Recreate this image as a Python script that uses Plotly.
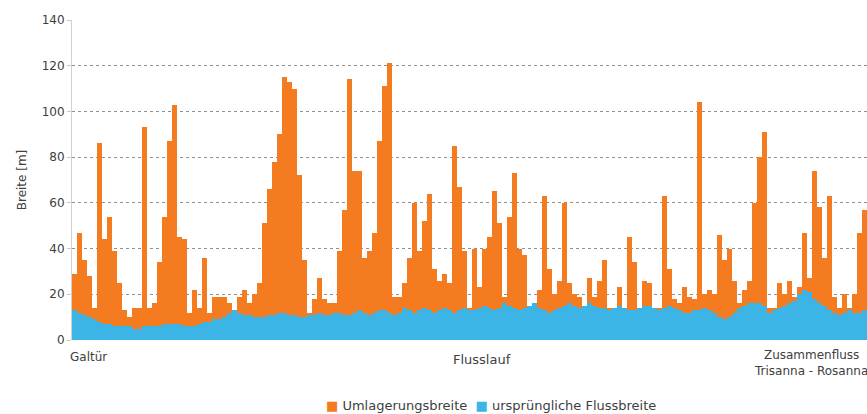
import plotly.graph_objects as go

# Breite entlang des Flusslaufs (Abschnitte von Galtür bis zum Zusammenfluss)
umlagerungsbreite = [
    29, 47, 35, 28, 14, 86, 44, 54, 39, 25,
    13, 10, 14, 14, 93, 14, 16, 34, 54, 87,
    103, 45, 44, 12, 22, 14, 36, 12, 19, 19,
    19, 16, 12, 19, 22, 16, 20, 25, 51, 66,
    78, 90, 115, 113, 110, 72, 35, 12, 18, 27,
    18, 16, 16, 39, 57, 114, 74, 74, 36, 39,
    47, 87, 111, 121, 19, 19, 25, 36, 60, 39,
    52, 64, 31, 26, 29, 25, 85, 67, 39, 14,
    40, 23, 40, 45, 65, 51, 19, 54, 73, 40,
    37, 14, 14, 22, 63, 31, 20, 26, 60, 25,
    20, 19, 14, 27, 19, 26, 35, 14, 14, 23,
    14, 45, 34, 14, 26, 25, 14, 14, 63, 31,
    18, 16, 23, 19, 18, 104, 20, 22, 20, 46,
    35, 40, 26, 16, 22, 26, 60, 80, 91, 14,
    14, 25, 20, 26, 19, 23, 47, 27, 74, 58,
    36, 63, 19, 14, 20, 14, 20, 47, 57,
]

urspruengliche_flussbreite = [
    13, 12, 11, 10, 9, 8, 7, 7, 6, 6,
    6, 6, 5, 5, 6, 6, 6, 6, 7, 7,
    7, 7, 6, 6, 6, 7, 8, 8, 9, 9,
    10, 12, 13, 12, 11, 11, 10, 10, 10, 11,
    11, 12, 12, 11, 11, 10, 10, 11, 11, 12,
    11, 11, 12, 12, 11, 11, 12, 13, 12, 11,
    12, 13, 13, 12, 11, 12, 14, 13, 12, 13,
    14, 13, 12, 13, 14, 13, 12, 13, 14, 13,
    13, 14, 15, 14, 13, 14, 16, 15, 14, 13,
    14, 15, 16, 14, 13, 12, 13, 14, 15, 16,
    15, 14, 15, 16, 15, 14, 14, 13, 14, 15,
    14, 13, 13, 14, 15, 15, 14, 13, 14, 15,
    14, 13, 12, 12, 13, 13, 14, 13, 12, 10,
    9, 10, 12, 14, 15, 16, 16, 16, 15, 12,
    13, 14, 15, 16, 17, 20, 22, 21, 18, 16,
    15, 13, 12, 11, 12, 13, 12, 12, 13,
]

y_ticks = [0, 20, 40, 60, 80, 100, 120, 140]

ORANGE = "#F47B20"
BLUE = "#3CB5E6"
TEXT = "#404040"
FONT = "DejaVu Sans"

n = len(umlagerungsbreite)
abschnitt = list(range(n))

fig = go.Figure()
fig.add_trace(go.Bar(
    x=abschnitt, y=umlagerungsbreite, name="Umlagerungsbreite",
    marker=dict(color=ORANGE, line=dict(width=0)), showlegend=False,
))
fig.add_trace(go.Bar(
    x=abschnitt, y=urspruengliche_flussbreite, name="ursprüngliche Flussbreite",
    marker=dict(color=BLUE, line=dict(width=0)), showlegend=False,
))

fig.update_layout(
    width=867, height=414,
    margin=dict(l=72, r=0, t=20, b=74),
    paper_bgcolor="white", plot_bgcolor="white",
    barmode="overlay", bargap=0,
    font=dict(family=FONT, size=12, color=TEXT),
    showlegend=False,
)

fig.update_xaxes(
    range=[-0.5, n - 0.5], showticklabels=False, showgrid=False,
    zeroline=False, showline=False, ticks="",
)
fig.update_yaxes(
    range=[0, 140], tickvals=y_ticks, ticktext=[str(v) for v in y_ticks],
    showgrid=True, gridcolor="#8f8f8f", gridwidth=1.2, griddash="3px,3px",
    zeroline=False, showline=True, linecolor="#d0d0d0", linewidth=1,
    ticks="outside", ticklen=4, tickcolor="#c8c8c8",
    tickfont=dict(size=12, color=TEXT, family=FONT),
    title=dict(text="Breite [m]", font=dict(size=12, color=TEXT), standoff=12),
)

# Achsenbeschriftung unter dem Flusslauf
fig.add_annotation(
    text="Galtür", xref="paper", yref="paper", x=-0.005, y=-0.053,
    xanchor="left", yanchor="middle", showarrow=False,
    font=dict(size=12, color=TEXT),
)
fig.add_annotation(
    text="Flusslauf", xref="paper", yref="paper", x=0.516, y=-0.06,
    xanchor="center", yanchor="middle", showarrow=False,
    font=dict(size=13, color=TEXT),
)
fig.add_annotation(
    text="Zusammenfluss<br>Trisanna - Rosanna", xref="paper", yref="paper",
    x=0.93, y=-0.072, xanchor="center", yanchor="middle", showarrow=False,
    align="center", font=dict(size=12, color=TEXT),
)

# Legende als kompakte Textzeile mit farbigen Kästchen
legend_text = (
    f"<span style='color:{ORANGE}'>■</span> Umlagerungsbreite  "
    f"<span style='color:{BLUE}'>■</span> ursprüngliche Flussbreite"
)
fig.add_annotation(
    text=legend_text, xref="paper", yref="paper", x=0.527, y=-0.205,
    xanchor="center", yanchor="middle", showarrow=False,
    font=dict(size=13, color=TEXT),
)

fig.write_html("out.html")
